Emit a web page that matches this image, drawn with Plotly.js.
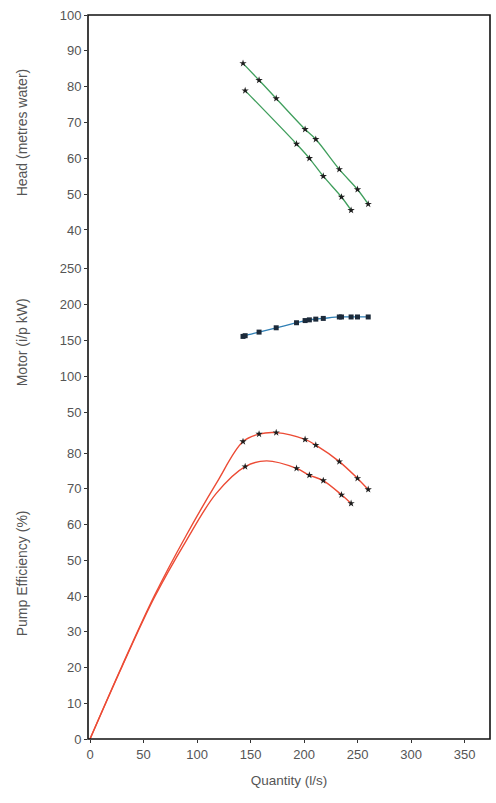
<!DOCTYPE html>
<html>
<head>
<meta charset="utf-8">
<script src="https://cdn.plot.ly/plotly-3.0.1.min.js"></script>
<style>html,body{margin:0;padding:0;background:#fff;}#chart{width:496px;height:803px;}</style>
</head>
<body>
<div id="chart"></div>
<script>
// Test A (upper curves) and test B (lower curves) measured points
const Q_A = [143, 158, 174, 201, 211, 233, 250, 260];
const head_A = [86.5, 81.8, 76.7, 68.1, 65.3, 56.9, 51.3, 47.2];
const eff_A = [83.2, 85.3, 85.7, 83.8, 82.2, 77.6, 72.9, 69.8];
const Q_B = [145, 193, 205, 218, 235, 244];
const head_B = [78.9, 64.0, 60.0, 55.0, 49.2, 45.5];
const eff_B = [76.2, 75.7, 73.8, 72.3, 68.3, 65.9];
// Motor input power (both tests)
const Q_motor = [143, 145, 158, 174, 193, 201, 205, 211, 218, 233, 235, 244, 250, 260];
const motor_kW = [155, 156, 161, 167, 174, 177, 178, 179, 180, 182, 182, 182, 182, 182];
// Fitted efficiency curves (through origin)
const Q_fitA = [0, 30, 60, 90, 118, 143, 158, 174, 201, 211, 233, 250, 260];
const eff_fitA = [0, 20.5, 40, 57, 71.5, 83.2, 85.3, 85.7, 83.8, 82.2, 77.6, 72.9, 69.8];
const Q_fitB = [0, 30, 60, 90, 118, 145, 165, 193, 205, 218, 235, 244];
const eff_fitB = [0, 20.3, 39.5, 55.5, 68.7, 76.2, 77.8, 75.7, 73.8, 72.3, 68.3, 65.9];
// Tick labels
const xTicks = [0, 50, 100, 150, 200, 250, 300, 350];
const headTicks = [40, 50, 60, 70, 80, 90, 100];
const motorTicks = [50, 100, 150, 200, 250];
const effTicks = [0, 10, 20, 30, 40, 50, 60, 70, 80];

const GREEN = '#3f9e5c', BLUE = '#2f7fb5', RED = '#ec4b35', MK = '#1e1e1e';
const FAM = 'Liberation Sans, Arial, sans-serif';
const tickFont = {family: FAM, size: 13, color: '#555'};
const xTitleFont = {family: FAM, size: 13.5, color: '#555'};
const yTitleFont = {family: FAM, size: 14, color: '#555'};

const starMarker = {symbol: 'star', size: 5.5, color: MK};
const traces = [
  {x: Q_A, y: head_A, yaxis: 'y3', mode: 'lines+markers', line: {color: GREEN, width: 1.3, shape: 'spline'}, marker: starMarker},
  {x: Q_B, y: head_B, yaxis: 'y3', mode: 'lines+markers', line: {color: GREEN, width: 1.3, shape: 'spline'}, marker: starMarker},
  {x: Q_motor, y: motor_kW, yaxis: 'y2', mode: 'lines+markers', line: {color: BLUE, width: 1.3, shape: 'spline'}, marker: {symbol: 'square', size: 5, color: '#1c2a3a'}},
  {x: Q_fitA, y: eff_fitA, mode: 'lines', line: {color: RED, width: 1.4, shape: 'spline', smoothing: 1}},
  {x: Q_fitB, y: eff_fitB, mode: 'lines', line: {color: RED, width: 1.4, shape: 'spline', smoothing: 1}},
  {x: Q_A, y: eff_A, mode: 'markers', marker: starMarker},
  {x: Q_B, y: eff_B, mode: 'markers', marker: starMarker}
];

const yCommon = {showgrid: false, zeroline: false, showline: false, ticks: 'outside', ticklen: 3, tickcolor: '#333', tickfont: tickFont, fixedrange: true};
const layout = {
  width: 496, height: 803,
  margin: {l: 88, r: 6, t: 15, b: 64},
  paper_bgcolor: '#fff', plot_bgcolor: 'rgba(0,0,0,0)',
  showlegend: false,
  xaxis: {range: [-1.87, 373.8], tickvals: xTicks, ticktext: xTicks.map(String), showgrid: false, zeroline: false, showline: false,
          ticks: 'outside', ticklen: 3, tickcolor: '#333', tickfont: tickFont,
          title: {text: 'Quantity (l/s)', font: xTitleFont, standoff: 14}},
  yaxis: Object.assign({}, yCommon, {domain: [0, 0.4444], range: [0, 90], tickvals: effTicks, ticktext: effTicks.map(String)}),
  yaxis2: Object.assign({}, yCommon, {domain: [0.4019, 0.6754], range: [0, 275], tickvals: motorTicks, ticktext: motorTicks.map(String), anchor: 'x'}),
  yaxis3: Object.assign({}, yCommon, {domain: [0.6754, 1], range: [34.4, 100], tickvals: headTicks, ticktext: headTicks.map(String), anchor: 'x'}),
  shapes: [
    {type: 'rect', xref: 'paper', yref: 'paper', x0: 0, x1: 1, y0: 0, y1: 1, line: {color: '#111', width: 1.6}}
  ],
  annotations: [
    {text: 'Head (metres water)', xref: 'paper', yref: 'paper', x: -0.164, y: 0.838, textangle: -90, showarrow: false, font: yTitleFont, xanchor: 'center', yanchor: 'middle'},
    {text: 'Motor (i/p kW)', xref: 'paper', yref: 'paper', x: -0.164, y: 0.548, textangle: -90, showarrow: false, font: yTitleFont, xanchor: 'center', yanchor: 'middle'},
    {text: 'Pump Efficiency (%)', xref: 'paper', yref: 'paper', x: -0.164, y: 0.229, textangle: -90, showarrow: false, font: yTitleFont, xanchor: 'center', yanchor: 'middle'}
  ]
};
Plotly.newPlot('chart', traces, layout, {displayModeBar: false, staticPlot: true});
</script>
</body>
</html>
